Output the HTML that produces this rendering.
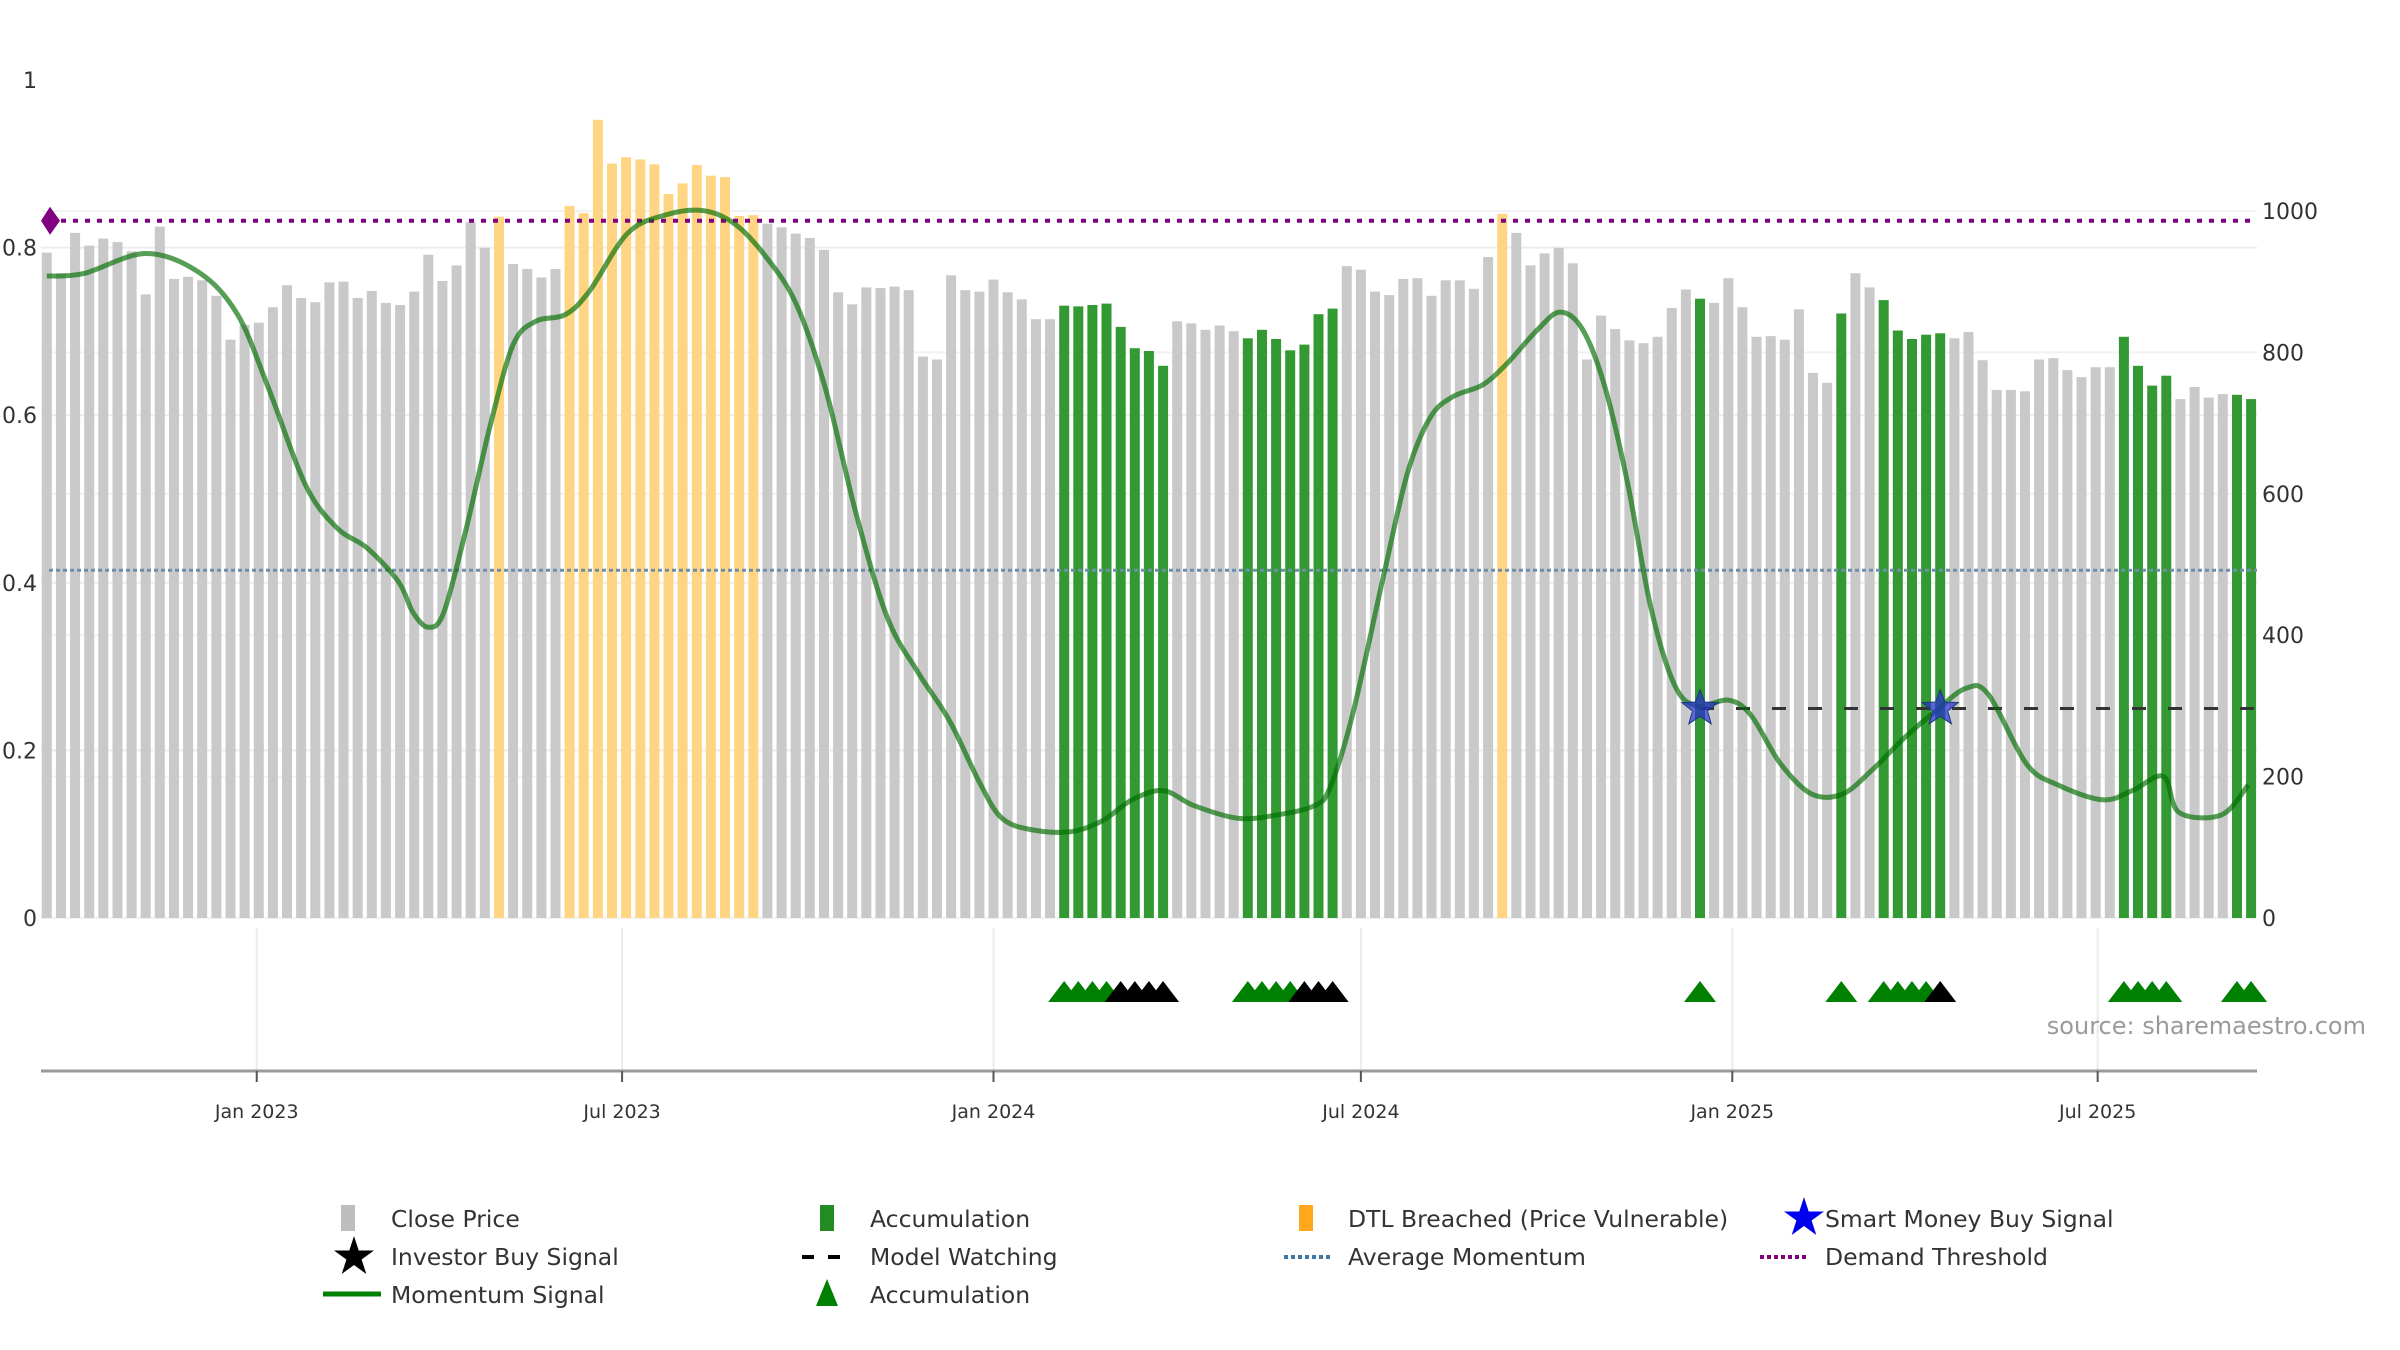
<!DOCTYPE html>
<html><head><meta charset="utf-8"><style>
html,body{margin:0;padding:0;background:#fff;}
svg{display:block;font-family:"DejaVu Sans","Liberation Sans",sans-serif;}
</style></head><body>
<svg id="chart" width="2400" height="1350" viewBox="0 0 2400 1350" xmlns="http://www.w3.org/2000/svg">
<g id="grid"></g>
<g id="bars"></g>
<g id="lines"></g>
<g id="mom"></g>
<g id="marks"></g>
<g id="axes"></g>
<text x="2366" y="1034" text-anchor="end" font-size="24" fill="#9a9a9a">source: sharemaestro.com</text>
<g id="legend">
  <rect x="341" y="1205" width="14" height="26" fill="#bdbdbd"/>
  <text x="391" y="1227" font-size="23.5" fill="#333">Close Price</text>
  <rect x="820" y="1205" width="14" height="26" fill="#228b22"/>
  <text x="870" y="1227" font-size="23.5" fill="#333">Accumulation</text>
  <rect x="1299" y="1205" width="14" height="26" fill="#ffa81c"/>
  <text x="1348" y="1227" font-size="23.5" fill="#333">DTL Breached (Price Vulnerable)</text>
  <polygon id="lgStar1" fill="#0000ee"/>
  <text x="1825" y="1227" font-size="23.5" fill="#333">Smart Money Buy Signal</text>
  <polygon id="lgStar2" fill="#000"/>
  <text x="391" y="1265" font-size="23.5" fill="#333">Investor Buy Signal</text>
  <line x1="802" y1="1257" x2="854" y2="1257" stroke="#000" stroke-width="4" stroke-dasharray="12 14"/>
  <text x="870" y="1265" font-size="23.5" fill="#333">Model Watching</text>
  <line x1="1284" y1="1257" x2="1332" y2="1257" stroke="#3b78a8" stroke-width="4" stroke-dasharray="4 3"/>
  <text x="1348" y="1265" font-size="23.5" fill="#333">Average Momentum</text>
  <line x1="1760" y1="1257" x2="1808" y2="1257" stroke="#800080" stroke-width="4" stroke-dasharray="4 3"/>
  <text x="1825" y="1265" font-size="23.5" fill="#333">Demand Threshold</text>
  <line x1="323" y1="1294" x2="381" y2="1294" stroke="#008000" stroke-width="5"/>
  <text x="391" y="1303" font-size="23.5" fill="#333">Momentum Signal</text>
  <polygon points="827,1279 816,1306 838,1306" fill="#008000"/>
  <text x="870" y="1303" font-size="23.5" fill="#333">Accumulation</text>
</g>
</svg>
<script>
const prices = [941,912,969,951,961,956,943,882,978,904,907,902,880,818,839,842,864,895,877,871,899,900,877,887,870,867,886,938,901,923,984,948,992,925,918,906,918,1007,997,1129,1067,1076,1073,1066,1024,1039,1065,1050,1048,993,994,982,977,968,962,945,885,868,892,891,893,888,794,790,909,888,886,903,885,875,847,847,866,865,867,869,836,806,802,781,844,841,832,838,830,820,832,819,803,811,854,862,922,917,886,881,904,905,880,902,902,890,935,996,969,923,940,948,926,790,852,833,817,813,822,863,889,876,870,905,864,822,823,818,861,771,757,855,912,892,874,831,819,825,827,820,829,789,747,747,745,790,792,775,765,779,779,822,781,753,767,734,751,736,741,740,734];
const accIdx = [72,73,74,75,76,77,78,79,85,86,87,88,89,90,91,117,127,130,131,132,133,134,147,148,149,150,155,156];
const dtlIdx = [32,37,38,39,40,41,42,43,44,45,46,47,48,49,50,103];
const momIdx = [0,2.6,7.0,10.8,13.5,15.7,18.3,20.5,22.7,24.9,25.9,27.0,28.1,29.7,31.4,33.0,34.6,36.7,38.4,41.1,43.8,46.5,48.7,50.8,53.0,55.1,57.3,59.5,61.7,63.9,66.0,67.6,69.8,72.5,74.7,76.8,79.0,81.2,84.3,87.1,89.7,90.8,92.4,94.6,96.3,97.9,99.5,101.6,103.3,105.5,107.1,108.7,110.3,111.9,113.5,115.2,116.8,119.0,120.6,122.7,124.9,127.1,129.2,131.4,133.6,135.8,137.4,140.1,142.3,145.5,147.6,149.8,150.9,153.9,155.8];
const momVal = [0.766,0.769,0.793,0.77,0.72,0.632,0.517,0.466,0.441,0.401,0.365,0.347,0.365,0.466,0.589,0.684,0.712,0.72,0.748,0.817,0.839,0.844,0.828,0.791,0.734,0.632,0.481,0.358,0.292,0.235,0.162,0.119,0.105,0.103,0.116,0.141,0.152,0.134,0.119,0.123,0.134,0.155,0.242,0.408,0.531,0.597,0.622,0.636,0.661,0.702,0.723,0.702,0.632,0.517,0.372,0.278,0.253,0.26,0.242,0.184,0.148,0.148,0.177,0.214,0.246,0.274,0.267,0.184,0.159,0.141,0.152,0.169,0.126,0.123,0.159];
const triGreen = [72,73,74,75,85,86,87,88,117,127,130,131,132,133,147,148,149,150,155,156];
const triBlack = [76,77,78,79,89,90,91,134];
const starIdx = [117,134];
const starVal = [0.25,0.25];
const demandThreshold = 0.832;
const avgMomentum = 0.415;
const watchLevel = 0.25;
const leftTicks = [0,0.2,0.4,0.6,0.8,1];
const leftTickLabels = ["0","0.2","0.4","0.6","0.8","1"];
const rightTicks = [0,200,400,600,800,1000];
const dateTicks = ["2023-01-01","2023-07-01","2024-01-01","2024-07-01","2025-01-01","2025-07-01"];
const dateTickLabels = ["Jan 2023","Jul 2023","Jan 2024","Jul 2024","Jan 2025","Jul 2025"];

const NS="http://www.w3.org/2000/svg";
const X0=46.8, STEP=14.13, BASE=918, PL=41, PR=2257;
const x = i => X0 + i*STEP;
const yL = v => BASE - v*838;
const yR = p => BASE - p*0.707;
const startDate = Date.UTC(2022,8,19);
const xDate = s => X0 + ((Date.parse(s+"T00:00:00Z")-startDate)/86400000)*STEP/7;
function mk(tag, attrs, parent){const e=document.createElementNS(NS,tag);for(const k in attrs)e.setAttribute(k,attrs[k]);parent.appendChild(e);return e;}
function starPts(cx,cy,R,r){let p=[];for(let k=0;k<10;k++){const a=-Math.PI/2+k*Math.PI/5;const rr=k%2?r:R;p.push((cx+rr*Math.cos(a)).toFixed(1)+","+(cy+rr*Math.sin(a)).toFixed(1));}return p.join(" ");}

const G=document.getElementById('grid');
leftTicks.forEach(v=>{if(v===1)return;const l=mk('line',{x1:PL,x2:PR,y1:yL(v),y2:yL(v),stroke:'#ededed','stroke-width':2},G);

});
rightTicks.forEach(v=>{const l=mk('line',{x1:PL,x2:PR,y1:yR(v),y2:yR(v),stroke:'#f2f2f2','stroke-width':2},G);

});
dateTicks.forEach(d=>{const l=mk('line',{x1:xDate(d),x2:xDate(d),y1:928,y2:1071,stroke:'#ececec','stroke-width':2},G);

});

const B=document.getElementById('bars');
prices.forEach((p,i)=>{let c='#c9c9c9';
 if(accIdx.includes(i)) c='#339933'; else if(dtlIdx.includes(i)) c='#ffd584';
 const r=mk('rect',{x:(x(i)-5).toFixed(1),y:yR(p).toFixed(1),width:10,height:(BASE-yR(p)).toFixed(1),fill:c},B);
 
 });

const L=document.getElementById('lines');
const dl=mk('line',{x1:PL+8,x2:PR,y1:yL(demandThreshold),y2:yL(demandThreshold),stroke:'#800080','stroke-width':4,'stroke-dasharray':'5 7'},L);


const am=mk('line',{x1:PL+8,x2:PR,y1:yL(avgMomentum),y2:yL(avgMomentum),stroke:'#6d8fac','stroke-width':3,'stroke-dasharray':'4 3'},L);


const mw=mk('line',{x1:x(starIdx[0]),x2:PR,y1:yL(watchLevel),y2:yL(watchLevel),stroke:'#333','stroke-width':3,'stroke-dasharray':'14 22'},L);


const dm=mk('polygon',{points:`${PL},${yL(demandThreshold)} ${PL+9},${yL(demandThreshold)-14} ${PL+19},${yL(demandThreshold)} ${PL+9},${yL(demandThreshold)+14}`,fill:'#800080'},L);



const M=document.getElementById('mom');
const pts=momIdx.map((k,j)=>[x(k),yL(momVal[j])]);
let d=`M${pts[0][0]},${pts[0][1]}`;
for(let j=0;j<pts.length-1;j++){const p0=pts[Math.max(0,j-1)],p1=pts[j],p2=pts[j+1],p3=pts[Math.min(pts.length-1,j+2)];
 const c1=[p1[0]+(p2[0]-p0[0])/6,p1[1]+(p2[1]-p0[1])/6],c2=[p2[0]-(p3[0]-p1[0])/6,p2[1]-(p3[1]-p1[1])/6];
 d+=` C${c1[0].toFixed(1)},${c1[1].toFixed(1)} ${c2[0].toFixed(1)},${c2[1].toFixed(1)} ${p2[0].toFixed(1)},${p2[1].toFixed(1)}`;}
const mp=mk('path',{d:d,fill:'none',stroke:'rgba(0,110,0,0.66)','stroke-width':5,'stroke-linejoin':'round'},M);



const K=document.getElementById('marks');
starIdx.forEach((k,j)=>{const s=mk('polygon',{points:starPts(x(k),yL(starVal[j]),19,8),fill:'rgba(40,50,200,0.75)',stroke:'#1a3a7a','stroke-width':1},K);
 
 });
triGreen.forEach(k=>{const t=mk('polygon',{points:`${x(k)},981 ${x(k)-16},1002 ${x(k)+16},1002`,fill:'#008000'},K);
 
 });
triBlack.forEach(k=>{const t=mk('polygon',{points:`${x(k)},981 ${x(k)-16},1002 ${x(k)+16},1002`,fill:'#000'},K);
 
 });

const A=document.getElementById('axes');
const ax=mk('line',{x1:PL,x2:PR,y1:1071,y2:1071,stroke:'#9a9a9a','stroke-width':3},A);


dateTicks.forEach((dt,j)=>{const xx=xDate(dt);
 const tk=mk('line',{x1:xx,x2:xx,y1:1071,y2:1082,stroke:'#555','stroke-width':2},A);
 
 
 const tl=mk('text',{x:xx,y:1118,'text-anchor':'middle','font-size':19,fill:'#333'},A);
 tl.textContent=dateTickLabels[j];
 
 });
leftTicks.forEach((v,j)=>{const t=mk('text',{x:37,y:yL(v)+8,'text-anchor':'end','font-size':22,fill:'#333'},A);
 t.textContent=leftTickLabels[j];
 
 });
rightTicks.forEach(v=>{const t=mk('text',{x:2262,y:yR(v)+8,'font-size':22,fill:'#333'},A);
 t.textContent=String(v);
 
 });

document.getElementById('lgStar1').setAttribute('points',starPts(1804,1218,21,8));
document.getElementById('lgStar2').setAttribute('points',starPts(354,1257,21,8));
</script>
</body></html>
